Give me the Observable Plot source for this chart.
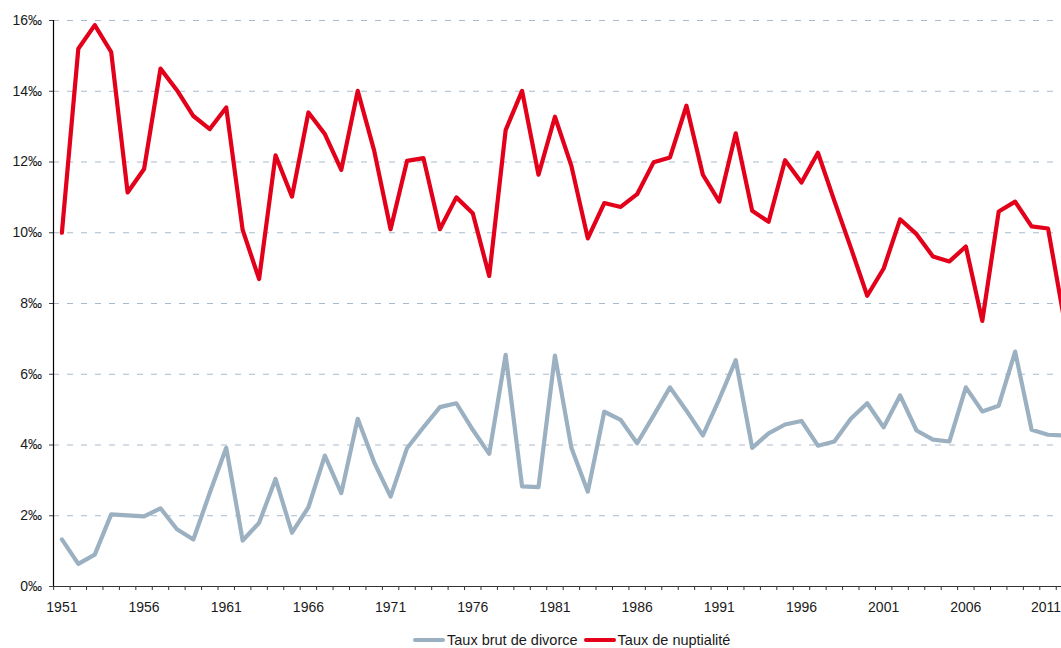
<!DOCTYPE html>
<html>
<head>
<meta charset="utf-8">
<script src="https://cdn.jsdelivr.net/npm/d3@7"></script>
<script src="https://cdn.jsdelivr.net/npm/@observablehq/plot@0.6"></script>
<style>
  html, body { margin: 0; padding: 0; background: #fff; }
  body { width: 1061px; height: 648px; position: relative; overflow: hidden; font-family: "Liberation Sans", Arial, Helvetica, sans-serif; }
  #legend { position: absolute; left: 413px; top: 630px; height: 20px; display: flex; align-items: center; font-size: 14.5px; color: #1a1a1a; white-space: nowrap; }
  .sw { display: inline-block; width: 32px; height: 4px; border-radius: 2px; margin-right: 2px; }
  .item { display: flex; align-items: center; margin-right: 6px; }
</style>
</head>
<body>
<div id="chart"></div>
<div id="legend"></div>
<script>
const years = d3.range(1951, 2013);
const nuptialite = [
  10.0, 15.2, 15.87, 15.11, 11.14, 11.8, 14.64, 14.03, 13.3, 12.93,
  13.54, 10.08, 8.69, 12.19, 11.02, 13.4, 12.79, 11.78, 14.01, 12.32,
  10.1, 12.03, 12.11, 10.1, 11.0, 10.55, 8.78, 12.9, 14.01, 11.64,
  13.28, 11.89, 9.84, 10.84, 10.73, 11.09, 11.99, 12.13, 13.59, 11.64,
  10.88, 12.81, 10.62, 10.31, 12.05, 11.42, 12.26, 10.9, 9.58, 8.22,
  8.99, 10.38, 9.96, 9.33, 9.19, 9.61, 7.51, 10.6, 10.88, 10.18,
  10.12, 7.5
];
const divorce = [
  1.33, 0.64, 0.9, 2.04, 2.01, 1.98, 2.21, 1.62, 1.33, 2.65,
  3.92, 1.3, 1.8, 3.04, 1.52, 2.24, 3.7, 2.64, 4.74, 3.51,
  2.54, 3.91, 4.5, 5.07, 5.18, 4.43, 3.75, 6.55, 2.83, 2.81,
  6.53, 3.92, 2.68, 4.94, 4.71, 4.05, 4.83, 5.63, 4.97, 4.27,
  5.3, 6.4, 3.92, 4.33, 4.58, 4.68, 3.98, 4.1, 4.74, 5.18,
  4.5, 5.4, 4.41, 4.15, 4.1, 5.63, 4.95, 5.11, 6.64, 4.43,
  4.29, 4.27
];
const seriesNames = ["Taux brut de divorce", "Taux de nuptialité"];
const seriesColors = ["#9bb0c1", "#e2001a"];
const yTicks = [0, 2, 4, 6, 8, 10, 12, 14, 16];
const xLabelYears = [1951, 1956, 1961, 1966, 1971, 1976, 1981, 1986, 1991, 1996, 2001, 2006, 2011];

const divData = years.map((y, i) => ({year: y, value: divorce[i]}));
const nupData = years.map((y, i) => ({year: y, value: nuptialite[i]}));
const boundaries = years.map(y => y - 0.5).concat([years[years.length - 1] + 0.5]);
const lastLabel = xLabelYears[xLabelYears.length - 1];

const plot = Plot.plot({
  width: 1061,
  height: 625,
  marginTop: 20,
  marginLeft: 53,
  marginRight: 0,
  marginBottom: 39,
  style: {fontFamily: '"Liberation Sans", Arial, Helvetica, sans-serif', fontSize: "14px", color: "#1a1a1a", background: "#fff"},
  x: {type: "linear", domain: [1950.49, 2011.82]},
  y: {domain: [0, 16]},
  marks: [
    Plot.gridY(yTicks.filter(d => d > 0), {stroke: "#a9bbcb", strokeOpacity: 1, strokeWidth: 1, strokeDasharray: "6,8"}),
    Plot.axisY(yTicks, {tickSize: 4, tickPadding: 7.5, tickFormat: d => d + "‰", stroke: "#444", label: null}),
    Plot.axisX(boundaries, {tickSize: 4, tickFormat: () => "", stroke: "#333", label: null}),
    Plot.axisX(xLabelYears.slice(0, -1), {tickSize: 0, tickPadding: 16, tickFormat: d => String(d), label: null}),
    Plot.text([lastLabel], {x: d => d, y: 0, text: d => String(d), textAnchor: "end", lineAnchor: "top", dx: 13, dy: 16, fill: "#1a1a1a"}),
    Plot.line(divData, {x: "year", y: "value", stroke: seriesColors[0], strokeWidth: 4.2, strokeLinejoin: "round", strokeLinecap: "round", clip: true}),
    Plot.line(nupData, {x: "year", y: "value", stroke: seriesColors[1], strokeWidth: 4.2, strokeLinejoin: "round", strokeLinecap: "round", clip: true}),
    Plot.ruleY([0], {stroke: "#333", strokeWidth: 1.2}),
    Plot.ruleX([1950.49], {stroke: "#000", strokeWidth: 1.2})
  ]
});
document.getElementById("chart").appendChild(plot);

const legend = document.getElementById("legend");
seriesNames.forEach((name, i) => {
  const item = document.createElement("span");
  item.className = "item";
  const sw = document.createElement("span");
  sw.className = "sw";
  sw.style.background = seriesColors[i];
  const t = document.createElement("span");
  t.textContent = name;
  item.appendChild(sw);
  item.appendChild(t);
  legend.appendChild(item);
});
</script>
</body>
</html>
